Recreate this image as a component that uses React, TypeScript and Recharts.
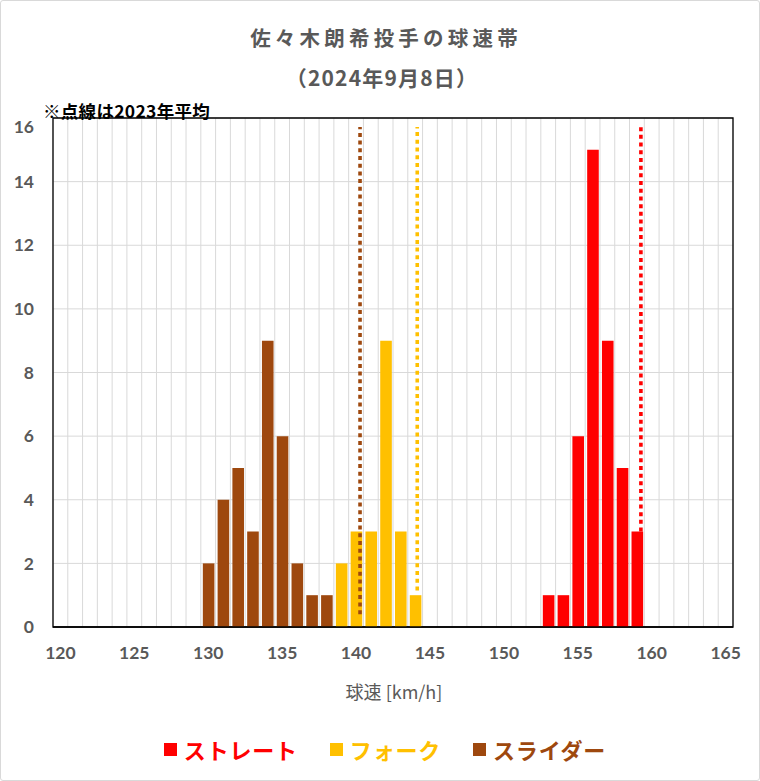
import React from 'react';
import { BarChart, Bar, XAxis, YAxis, CartesianGrid, ReferenceLine, ReferenceArea } from 'recharts';

// ---- data ----
const straightSpeeds = [153, 154, 155, 156, 157, 158, 159];
const straightCounts = [1, 1, 6, 15, 9, 5, 3];
const forkSpeeds = [139, 140, 141, 142, 143, 144];
const forkCounts = [2, 3, 3, 9, 3, 1];
const sliderSpeeds = [130, 131, 132, 133, 134, 135, 136, 137, 138];
const sliderCounts = [2, 4, 5, 3, 9, 6, 2, 1, 1];

const seriesKeys = ['straight', 'fork', 'slider'];
const seriesNames = ['ストレート', 'フォーク', 'スライダー'];
const seriesColors = ['#FF0000', '#FFC000', '#9E480E'];

// 2023 averages (dotted lines)
const avg2023 = [159.27, 144.14, 140.27];
const avgLineBottom = [3.0, 1.15, 0.4];
const avgLineTop = 15.72;

const xTicks = [120, 125, 130, 135, 140, 145, 150, 155, 160, 165];
const yTicks = [0, 2, 4, 6, 8, 10, 12, 14, 16];
const xDomain = [119.5, 165.5];
const yDomain = [0, 16];

const titleText = '佐々木朗希投手の球速帯';
const subtitleText = '（2024年9月8日）';
const noteText = '※点線は2023年平均';
const xLabelText = '球速 [km/h]';

// bin edges for vertical grid lines (one per km/h category)
const gridEdges: number[] = Array.from({ length: xDomain[1] - xDomain[0] + 1 }, (_, i) => xDomain[0] + i);

const seriesData = [
  { speeds: straightSpeeds, counts: straightCounts },
  { speeds: forkSpeeds, counts: forkCounts },
  { speeds: sliderSpeeds, counts: sliderCounts },
];

const allSpeeds = Array.from(new Set([...sliderSpeeds, ...forkSpeeds, ...straightSpeeds])).sort((a, b) => a - b);
const rows = allSpeeds.map((s) => {
  const row: any = { speed: s };
  seriesKeys.forEach((k, i) => {
    const idx = seriesData[i].speeds.indexOf(s);
    row[k] = idx >= 0 ? seriesData[i].counts[idx] : 0;
  });
  return row;
});

const NUM_FONT = 'Lato, "Noto Sans", sans-serif';
const JP_FONT = '"Noto Sans CJK JP", "Noto Sans", sans-serif';
const GRAY = '#595959';

function YTick(props: any) {
  const { x, y, payload } = props;
  const shift = payload.value === yDomain[1] ? 9 : 0;
  return (
    <text x={x} y={y + shift} dy="0.35em" textAnchor="end" fill={GRAY} fontSize={17.5} fontWeight={700} fontFamily={NUM_FONT}>
      {payload.value}
    </text>
  );
}

const gridGen = (props: any) => {
  const scale = props?.xAxis?.scale;
  const off = props.offset;
  return gridEdges.map((v) => {
    if (typeof scale === 'function') return scale(v);
    if (scale && typeof scale.map === 'function') return scale.map(v);
    return off.left + ((v - xDomain[0]) / (xDomain[1] - xDomain[0])) * off.width;
  });
};

export default function App() {
  return (
    <div
      style={{
        position: 'absolute',
        left: 0,
        top: 0,
        width: 760,
        height: 781,
        background: '#fff',
        boxSizing: 'border-box',
        border: '1px solid #d9d9d9',
        borderRadius: 3,
        overflow: 'hidden',
      }}
    >
      <div style={{ position: 'absolute', left: -1, top: -1 }}>
        <BarChart width={760} height={781} data={rows} margin={{ top: 118, right: 27, bottom: 124, left: 13 }}>
          <CartesianGrid stroke="#d9d9d9" strokeWidth={1} verticalCoordinatesGenerator={gridGen} />
          <XAxis
            dataKey="speed"
            type="number"
            domain={xDomain}
            ticks={xTicks}
            interval={0}
            height={30}
            tickLine={false}
            tickSize={6}
            tickMargin={14}
            axisLine={{ stroke: '#000', strokeWidth: 1.5 }}
            tick={{ fill: GRAY, fontSize: 17.5, fontWeight: 700, fontFamily: NUM_FONT }}
          />
          <YAxis
            type="number"
            domain={yDomain}
            ticks={yTicks}
            interval={0}
            width={40}
            axisLine={false}
            tickLine={false}
            tickSize={6}
            tickMargin={13}
            tick={<YTick />}
          />
          {seriesKeys.map((k, i) => (
            <Bar key={k} dataKey={k} name={seriesNames[i]} stackId="s" fill={seriesColors[i]} barSize={11.6} isAnimationActive={false} />
          ))}
          <ReferenceArea
            x1={xDomain[0]}
            x2={xDomain[1]}
            y1={yDomain[0]}
            y2={yDomain[1]}
            fill="none"
            fillOpacity={0}
            stroke="#000"
            strokeWidth={1.3}
            strokeOpacity={1}
          />
          {seriesKeys.map((k, i) => (
            <ReferenceLine
              key={'avg-' + k}
              segment={[
                { x: avg2023[i], y: avgLineBottom[i] },
                { x: avg2023[i], y: avgLineTop },
              ]}
              stroke={seriesColors[i]}
              strokeWidth={3.6}
              strokeDasharray="4 3.7"
            />
          ))}
        </BarChart>
      </div>

      {/* title */}
      <div
        style={{
          position: 'absolute',
          left: 0,
          width: 760,
          top: 22,
          textAlign: 'center',
          fontFamily: JP_FONT,
          fontWeight: 700,
          fontSize: 20.5,
          lineHeight: '28px',
          color: GRAY,
          letterSpacing: 4.2,
          paddingLeft: 10,
          boxSizing: 'border-box',
        }}
      >
        {titleText}
      </div>
      <div
        style={{
          position: 'absolute',
          left: 0,
          width: 760,
          top: 62,
          textAlign: 'center',
          fontFamily: JP_FONT,
          fontWeight: 700,
          fontSize: 21,
          lineHeight: '28px',
          color: GRAY,
          letterSpacing: 1.2,
          paddingLeft: 2,
          boxSizing: 'border-box',
        }}
      >
        {subtitleText}
      </div>

      {/* note */}
      <div
        style={{
          position: 'absolute',
          left: 42,
          top: 99,
          fontFamily: JP_FONT,
          fontWeight: 700,
          fontSize: 17.5,
          lineHeight: '22px',
          color: '#000',
          whiteSpace: 'nowrap',
          letterSpacing: 0.3,
        }}
      >
        {noteText}
      </div>

      {/* x axis title */}
      <div
        style={{
          position: 'absolute',
          left: 53,
          width: 680,
          top: 677,
          textAlign: 'center',
          fontFamily: JP_FONT,
          fontSize: 18,
          lineHeight: '26px',
          color: GRAY,
        }}
      >
        {xLabelText}
      </div>

      {/* legend */}
      <div
        style={{
          position: 'absolute',
          left: 0,
          width: 760,
          top: 732,
          display: 'flex',
          justifyContent: 'center',
          gap: 32,
          paddingLeft: 8,
          boxSizing: 'border-box',
        }}
      >
        {seriesNames.map((n, i) => (
          <div key={n} style={{ display: 'flex', alignItems: 'center' }}>
            <span style={{ display: 'inline-block', width: 13, height: 13, background: seriesColors[i], marginRight: 7 }} />
            <span
              style={{
                fontFamily: JP_FONT,
                fontWeight: 700,
                fontSize: 22,
                lineHeight: '32px',
                color: seriesColors[i],
                letterSpacing: 0.8,
              }}
            >
              {n}
            </span>
          </div>
        ))}
      </div>
    </div>
  );
}
